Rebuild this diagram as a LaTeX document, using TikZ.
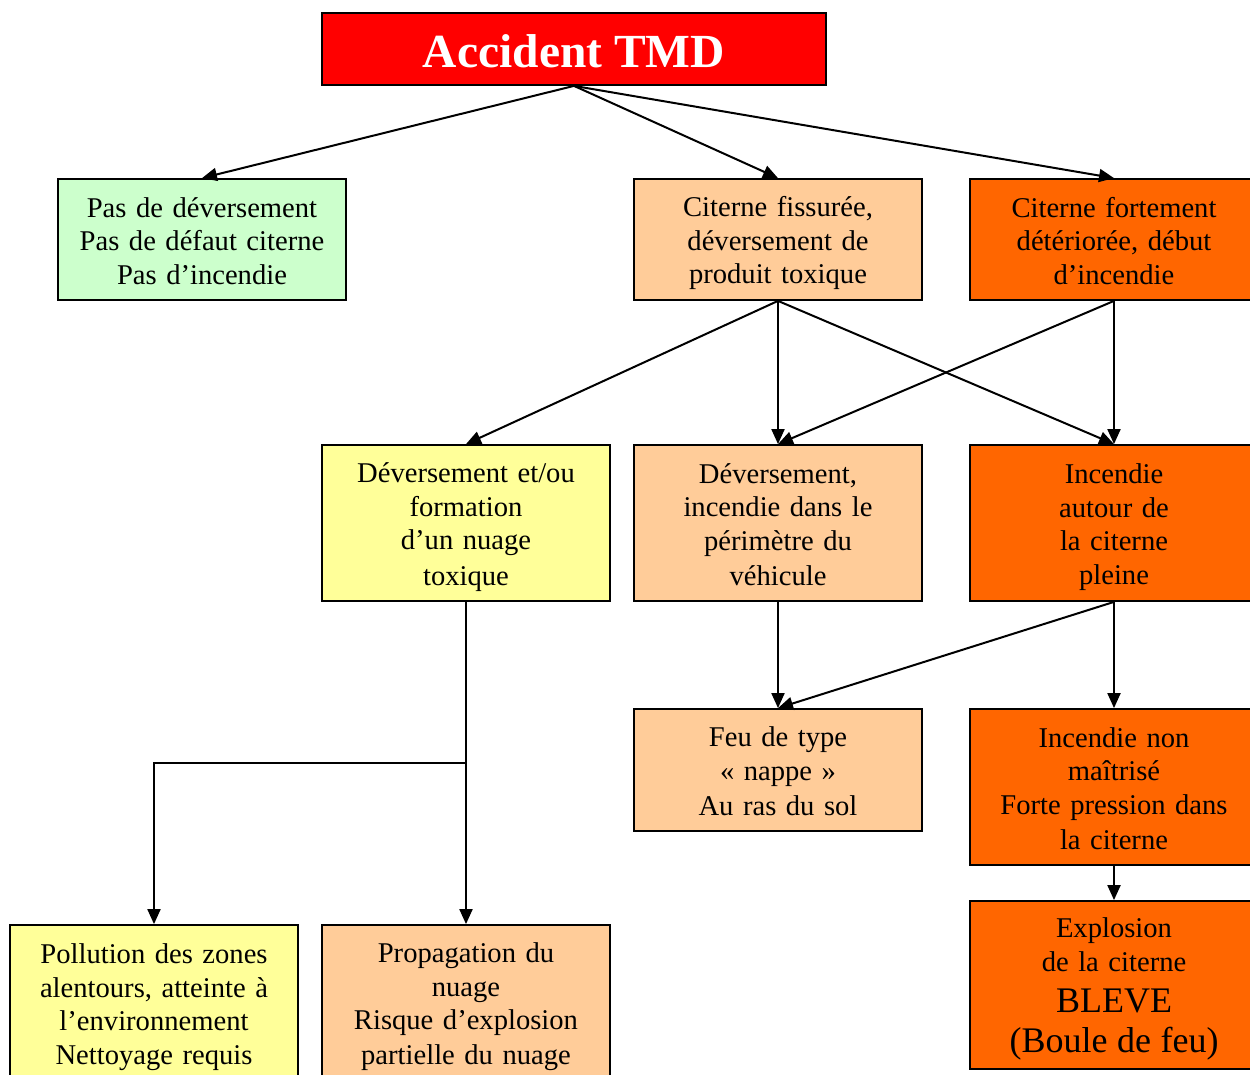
\documentclass[tikz,border=0pt]{standalone}
\usepackage{fontspec}
\setmainfont{Liberation Serif}
\usetikzlibrary{arrows.meta}
\definecolor{boxgreen}{HTML}{CCFFCC}
\definecolor{boxpeach}{HTML}{FFCC99}
\definecolor{boxorange}{HTML}{FF6600}
\definecolor{boxyellow}{HTML}{FFFF99}
% fixed line box so every box centres its lines the same way
\newcommand\lnstrut{\rule[-5.5pt]{0pt}{33.5pt}}
\begin{document}
\begin{tikzpicture}[x=1pt,y=-1pt,
  box/.style={draw=black,line width=1.8pt,minimum width=288pt,inner sep=0pt,
    align=center,font=\fontsize{28.6}{33.5}\selectfont},
  stepbox/.style={box,text width=280pt,
    execute at begin node={\lnstrut},execute at end node={\lnstrut}},
  arr/.style={line width=2pt,-{Triangle[length=15pt,width=13pt]}}]
\clip (0,0) rectangle (1250,1075);
\fill[white] (0,0) rectangle (1250,1075);

% head event
\node[box,fill=red,minimum width=504pt,minimum height=72pt,text=white,
  text height=38pt,text depth=0pt,
  font=\bfseries\fontsize{47.5}{50}\selectfont] (top) at (574,49) {Accident TMD};

% first level
\node[stepbox,fill=boxgreen,minimum height=121pt] (noleak) at (202,239.5)
  {Pas de déversement\\Pas de défaut citerne\\Pas d’incendie};
\node[stepbox,fill=boxpeach,minimum height=121pt] (crack) at (778,239.5)
  {Citerne fissurée,\\déversement de\\produit toxique};
\node[stepbox,fill=boxorange,minimum height=121pt] (damaged) at (1114,239.5)
  {Citerne fortement\\détériorée, début\\d’incendie};

% second level
\node[stepbox,fill=boxyellow,minimum height=156pt] (cloud) at (466,523)
  {Déversement et/ou\\formation\\d’un nuage\\toxique};
\node[stepbox,fill=boxpeach,minimum height=156pt] (spread) at (778,523)
  {Déversement,\\incendie dans le\\périmètre du\\véhicule};
\node[stepbox,fill=boxorange,minimum height=156pt] (ringfire) at (1114,523)
  {Incendie\\autour de\\la citerne\\pleine};

% third level
\node[stepbox,fill=boxpeach,minimum height=122pt] (pool) at (778,770)
  {Feu de type\\«~nappe~»\\Au ras du sol};
\node[stepbox,fill=boxorange,minimum height=156pt] (uncontrolled) at (1114,787)
  {Incendie non\\maîtrisé\\Forte pression dans\\la citerne};

% outcomes
\node[stepbox,fill=boxorange,minimum height=168pt] (bleve) at (1114,985)
  {Explosion\\de la citerne\\[7.5pt]{\fontsize{36}{40}\selectfont BLEVE}\\[6.5pt]{\fontsize{36}{40}\selectfont (Boule de feu)}};
\node[stepbox,fill=boxyellow,minimum height=156pt] (pollution) at (154,1003)
  {Pollution des zones\\alentours, atteinte à\\l’environnement\\Nettoyage requis};
\node[stepbox,fill=boxpeach,minimum height=156pt] (drift) at (466,1003)
  {Propagation du\\nuage\\Risque d’explosion\\partielle du nuage};

% connectors
\draw[arr] (top.south) -- (noleak.north);
\draw[arr] (top.south) -- (crack.north);
\draw[arr] (top.south) -- (damaged.north);
\draw[arr] (crack.south) -- (cloud.north);
\draw[arr] (crack.south) -- (spread.north);
\draw[arr] (crack.south) -- (ringfire.north);
\draw[arr] (damaged.south) -- (spread.north);
\draw[arr] (damaged.south) -- (ringfire.north);
\draw[arr] (cloud.south) -- (drift.north);
\coordinate (fork) at (466,763);
\draw[arr] (fork) -| (pollution.north);
\draw[arr] (spread.south) -- (pool.north);
\draw[arr] (ringfire.south) -- (pool.north);
\draw[arr] (ringfire.south) -- (uncontrolled.north);
\draw[arr] (uncontrolled.south) -- (bleve.north);
\end{tikzpicture}
\end{document}
